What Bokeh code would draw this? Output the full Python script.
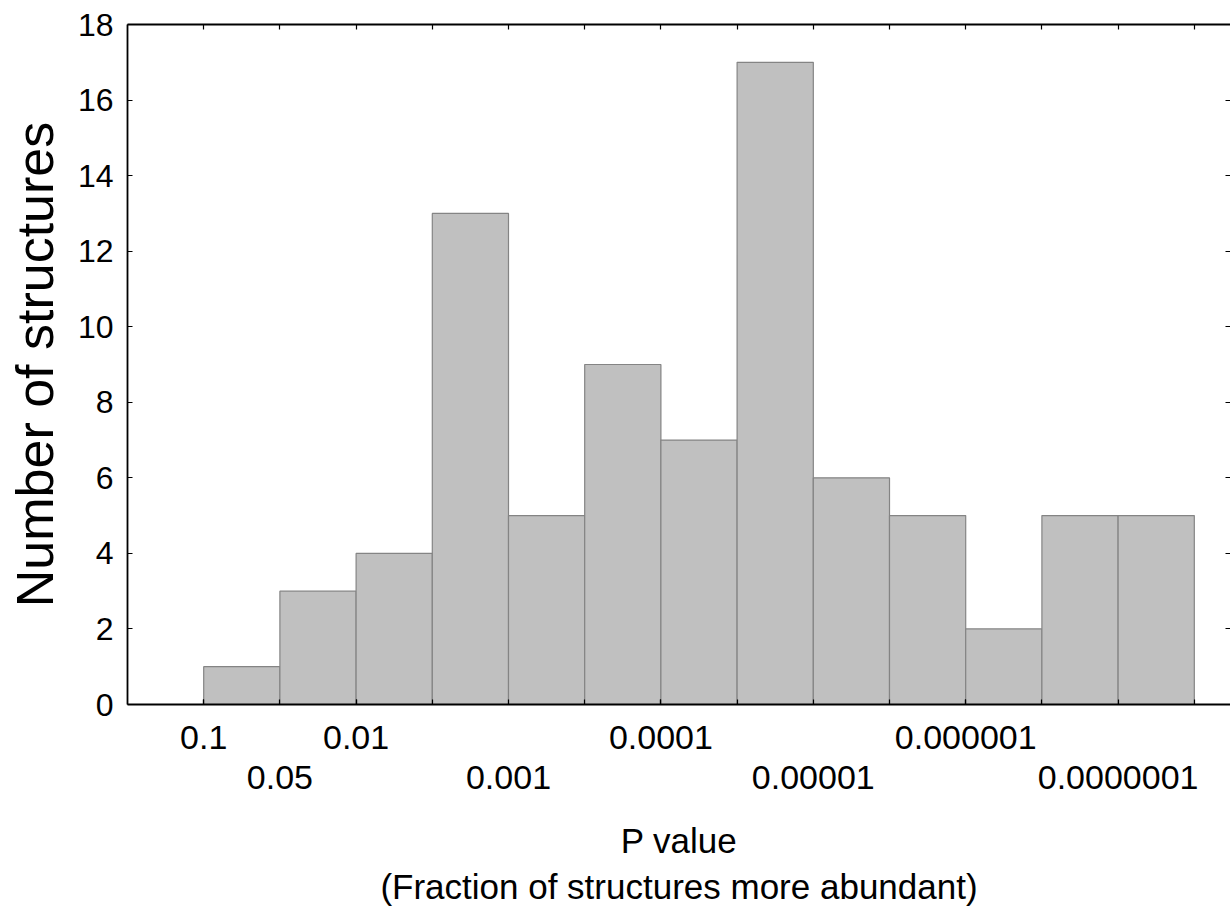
from bokeh.plotting import figure
from bokeh.models import LinearAxis, FixedTicker, Range1d
from bokeh.embed import file_html
from bokeh.resources import INLINE

# ---- data ----
bin_edges = list(range(14))           # bin boundaries (index positions on the P-value scale)
counts = [1, 3, 4, 13, 5, 9, 7, 17, 6, 5, 2, 5, 5]
row1_ticks = {0: "0.1", 2: "0.01", 6: "0.0001", 10: "0.000001"}
row2_ticks = {1: "0.05", 4: "0.001", 8: "0.00001", 12: "0.0000001"}
y_ticks = list(range(0, 19, 2))
x_label = "P value\n(Fraction of structures more abundant)"
y_label = "Number of structures"

FONT = "Liberation Sans"

p = figure(width=1230, height=910, output_backend="svg", toolbar_location=None,
           x_range=Range1d(-1, 13.475), y_range=Range1d(0, 18),
           x_axis_location=None, y_axis_location=None,
           min_border_left=127, min_border_top=24, min_border_right=0,
           min_border_bottom=206)
p.outline_line_color = None
p.xgrid.visible = False
p.ygrid.visible = False
p.background_fill_color = "white"
p.border_fill_color = "white"

p.quad(left=bin_edges[:-1], right=bin_edges[1:], bottom=0, top=counts,
       fill_color="#c0c0c0", line_color="#848484", line_width=1.2)

def style(ax):
    ax.axis_line_color = "black"
    ax.axis_line_width = 1.8
    ax.major_tick_line_color = "black"
    ax.major_tick_line_width = 1.2
    ax.major_tick_in = 5
    ax.major_tick_out = 0
    ax.minor_tick_line_color = "black"
    ax.minor_tick_line_width = 1.2
    ax.minor_tick_in = 5
    ax.minor_tick_out = 0
    ax.major_label_text_font = FONT
    ax.major_label_text_color = "black"
    ax.major_label_text_font_size = "32px"

# left axis
yl = LinearAxis(ticker=FixedTicker(ticks=y_ticks))
style(yl)
yl.major_label_standoff = 14
yl.axis_label = y_label
yl.axis_label_text_font = FONT
yl.axis_label_text_font_size = "52px"
yl.axis_label_text_font_style = "normal"
yl.axis_label_text_color = "black"
yl.axis_label_standoff = 11
p.add_layout(yl, "left")

# right axis (ticks only)
yr = LinearAxis(ticker=FixedTicker(ticks=[], minor_ticks=y_ticks))
style(yr)
yr.axis_line_color = None
yr.major_label_standoff = 0
p.add_layout(yr, "right")

# top axis (line and ticks only)
xt = LinearAxis(ticker=FixedTicker(ticks=[], minor_ticks=bin_edges))
style(xt)
xt.major_label_standoff = 0
p.add_layout(xt, "above")

# bottom axis: ticks at every bin edge, first row of labels
xb1 = LinearAxis(ticker=FixedTicker(ticks=list(row1_ticks.keys()), minor_ticks=bin_edges))
style(xb1)
xb1.major_label_text_font_size = "34px"
xb1.major_label_overrides = dict(row1_ticks)
xb1.major_label_standoff = 21
p.add_layout(xb1, "below")

# bottom axis row 2 + axis title
xb2 = LinearAxis(ticker=FixedTicker(ticks=list(row2_ticks.keys())))
style(xb2)
xb2.axis_line_color = None
xb2.major_tick_line_color = None
xb2.minor_tick_line_color = None
xb2.major_tick_in = 0
xb2.major_label_text_font_size = "34px"
xb2.major_label_overrides = dict(row2_ticks)
xb2.major_label_standoff = 14
xb2.axis_label = x_label
xb2.axis_label_text_font = FONT
xb2.axis_label_text_font_size = "35px"
xb2.axis_label_text_font_style = "normal"
xb2.axis_label_text_color = "black"
xb2.axis_label_standoff = 29
p.add_layout(xb2, "below")

open("out.html", "w").write(file_html(p, INLINE))
